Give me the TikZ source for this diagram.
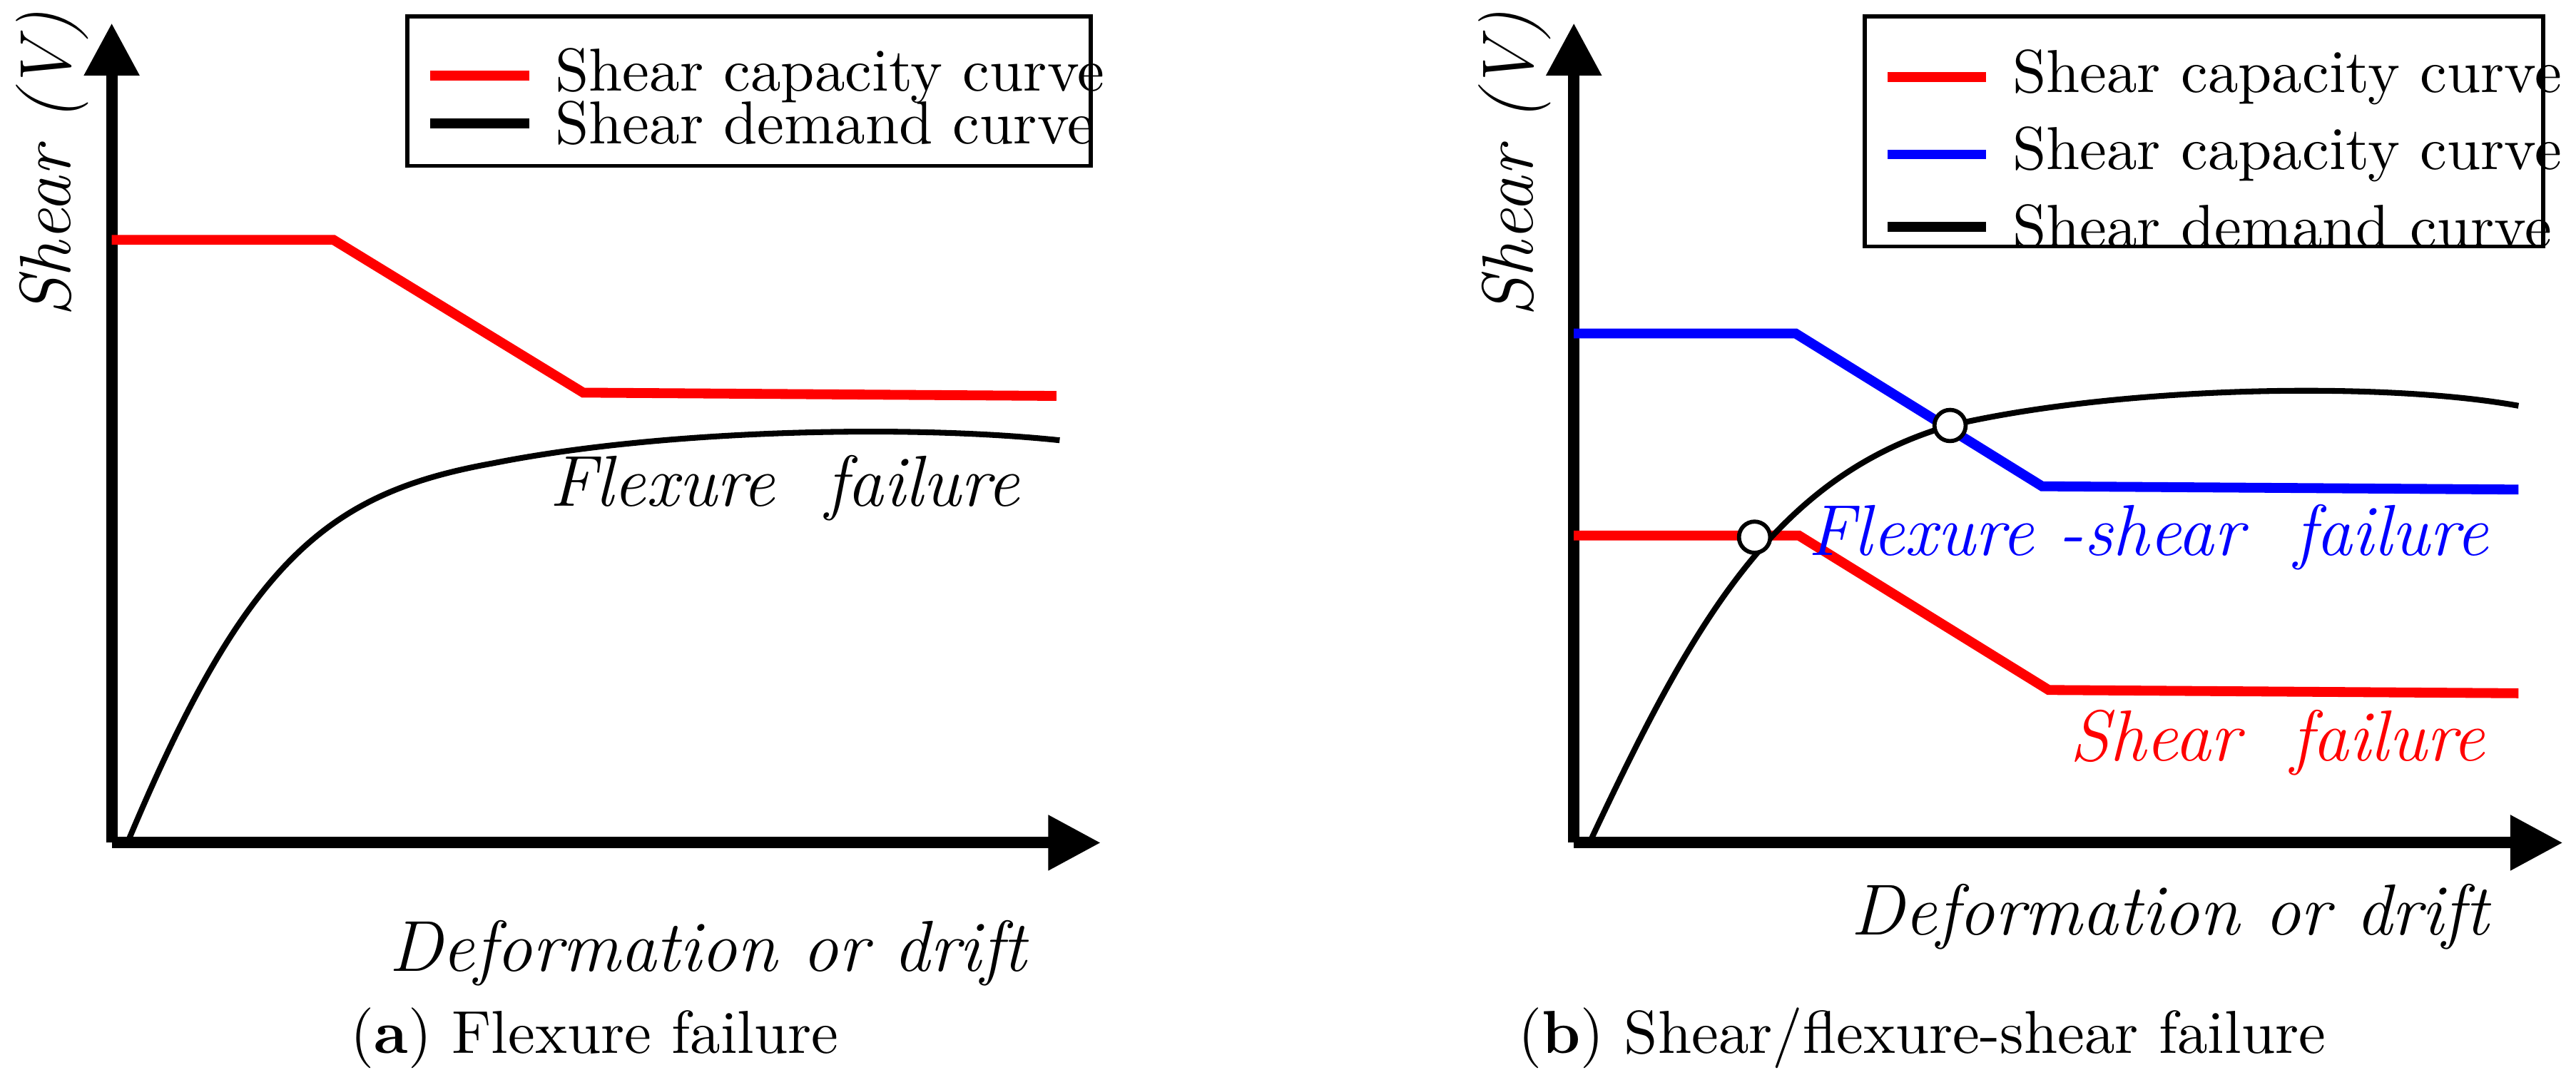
\documentclass[tikz,border=0pt]{standalone}
\usetikzlibrary{arrows.meta}
\tikzset{
	axis/.style = {line width=0.7mm, -{Triangle[length=3.2mm, width=3.2mm]}},
	curve/.style = {#1, line width=0.6mm},
	demand/.style = {black, line width=0.35mm},
	cross/.style = {circle, draw, fill=white, line width=0.25mm, inner sep=0pt, minimum size=1.9mm},
	legtext/.style = {anchor=west, inner sep=0pt, xshift=1.3mm, font=\fontsize{10.5}{12}\selectfont},
	lbl/.style = {font=\fontsize{12.5}{14}\selectfont\itshape},
	subcap/.style = {font=\fontsize{10.5}{12}\selectfont},
}
\begin{document}
\begin{tikzpicture}[x=0.1mm, y=-0.1mm]
			\useasboundingbox (0,0) rectangle (1568,654);
			% panel (a)
			\coordinate (oa) at (68,513);
			\draw[axis] (oa) -- (68,14);
			\draw[axis] (oa) -- (670,513);
			\node[lbl, rotate=90] (va) at (32,100) {Shear (V)};
			\node[lbl, anchor=east] (ha) at (637,580) {Deformation or drift};
			\draw[line width=0.25mm] (248,10) rectangle (664,101);
			\draw[curve={red}] (262,46) -- (322,46) node[legtext, black] (la1) {Shear capacity curve};
			\draw[curve={black}] (262,75) -- (322,75) node[legtext] (la2) {Shear demand curve};
			\draw[curve={red}] (68,146) -- (203,146) -- (355,239) -- (643,241);
			\draw[demand] (78,512) .. controls (150,340) and (200,300) .. (300,282)
				.. controls (400,262) and (550,258) .. (645,268);
			\node[lbl, anchor=east] (fa) at (633,297) {Flexure\ \ failure};
			\node[subcap] (ca) at (362,632) {(\textbf{a}) Flexure failure};
			% panel (b)
			\coordinate (ob) at (958,513);
			\draw[axis] (ob) -- (958,14);
			\draw[axis] (ob) -- (1560,513);
			\node[lbl, rotate=90] (vb) at (922,100) {Shear (V)};
			\node[lbl, anchor=east] (hb) at (1527,558) {Deformation or drift};
			\draw[line width=0.25mm] (1135,10) rectangle (1548,150);
			\draw[curve={red}] (1149,47) -- (1209,47) node[legtext, black] (lb1) {Shear capacity curve};
			\draw[curve={blue}] (1149,94) -- (1209,94) node[legtext, black] (lb2) {Shear capacity curve};
			\draw[curve={black}] (1149,138) -- (1209,138) node[legtext] (lb3) {Shear demand curve};
			\draw[curve={blue}] (958,203) -- (1093,203) -- (1243,296) -- (1533,298);
			\draw[curve={red}] (958,326) -- (1095,326) -- (1247,420) -- (1533,422);
			\draw[demand] (968,512) .. controls (1030,380) and (1080,290) .. (1187,259)
				.. controls (1290,235) and (1450,232) .. (1533,247);
			\node[cross] (x1) at (1068,327) {};
			\node[cross] (x2) at (1187,259) {};
			\node[lbl, blue, anchor=east] (fs) at (1527,327) {Flexure -shear\ \ failure};
			\node[lbl, red, anchor=east] (sf) at (1525,452) {Shear\ \ failure};
			\node[subcap] (cb) at (1170,632) {(\textbf{b}) Shear/flexure-shear failure};
\end{tikzpicture}
\end{document}
